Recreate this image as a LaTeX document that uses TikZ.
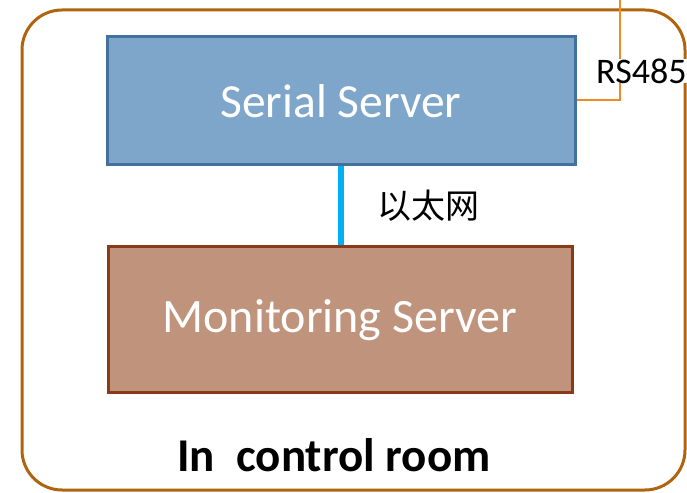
\documentclass[tikz,border=0pt]{standalone}
\usepackage{fontspec}
\setmainfont{Carlito}
\newfontfamily\cjk{Noto Sans CJK SC}
\definecolor{frameC}{HTML}{B0640E}
\definecolor{serFill}{HTML}{7EA6CA}
\definecolor{serLine}{HTML}{41719C}
\definecolor{monFill}{HTML}{C0947C}
\definecolor{monLine}{HTML}{8A3A14}
\definecolor{ethC}{HTML}{00B0F0}
\definecolor{rsC}{HTML}{F08A24}
\begin{document}
\begin{tikzpicture}[x=1pt,y=1pt,
  box/.style={rectangle, draw, line width=3pt, text=white, inner sep=0pt},
  lbl/.style={inner sep=0pt}]
\useasboundingbox (0,0) rectangle (687,492);
\draw[frameC, line width=3pt, rounded corners=40pt] (22,2) rectangle (685,482);
\node[box, fill=serFill, draw=serLine, minimum width=468pt, minimum height=128pt,
  font=\fontsize{47.5}{56}\selectfont] (ser) at (341,391) {Serial Server};
\node[box, fill=monFill, draw=monLine, minimum width=464pt, minimum height=146pt,
  font=\fontsize{48}{56}\selectfont] (mon) at (340,172) {Monitoring Server};
\draw[ethC, line width=6pt] (ser.south -| 341,0) -- (mon.north -| 341,0);
\node[lbl, font=\cjk\fontsize{34}{40}\selectfont] (eth) at (428,286) {以太网};
\coordinate (top) at (620,492);
\draw[rsC, line width=2.5pt] (ser.east |- 0,392) -- (620,392) -- (top);
\node[lbl, anchor=west, fill=white, font=\fontsize{36}{42}\selectfont] (rs) at (596,421) {RS485};
\node[lbl, font=\bfseries\fontsize{47}{56}\selectfont] (room) at (334,37) {In\ \ control room};
\end{tikzpicture}
\end{document}
